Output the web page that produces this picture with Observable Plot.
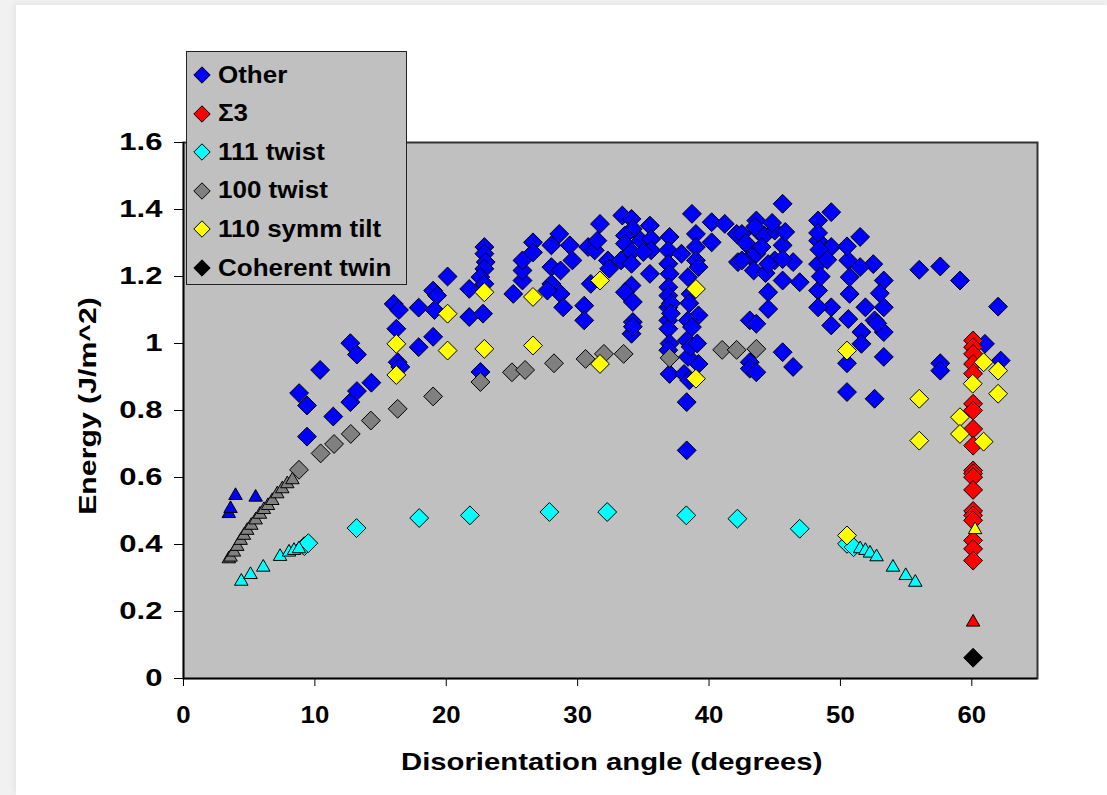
<!DOCTYPE html>
<html><head><meta charset="utf-8">
<script src="https://cdn.jsdelivr.net/npm/d3@7"></script>
<script src="https://cdn.jsdelivr.net/npm/@observablehq/plot@0.6"></script>
<style>
html,body{margin:0;padding:0;background:#f1f1f1;width:1107px;height:795px;overflow:hidden;font-family:"Liberation Sans",Arial,sans-serif;}
#card{position:absolute;left:16px;top:5px;width:1091px;height:790px;background:#fff;box-shadow:-2px -1px 6px rgba(0,0,0,0.06);}
#chart{position:absolute;left:0;top:0;}
#legend{position:absolute;left:186px;top:51px;width:221px;height:234px;background:#c0c0c0;border:1.5px solid #222;box-sizing:border-box;}
.li{position:absolute;left:0;height:30px;display:flex;align-items:center;font-weight:bold;font-size:23px;color:#000;white-space:nowrap;}
.li svg{margin-left:6px;margin-right:7px;}
.li span{display:inline-block;transform:scaleX(1.13);transform-origin:left center;}
.title{position:absolute;font-weight:bold;font-size:24px;color:#000;white-space:nowrap;}
</style></head>
<body>
<div id="card"></div>
<div id="chart"></div>
<div id="legend"></div>
<div class="title" id="xt">Disorientation angle (degrees)</div>
<div class="title" id="yt">Energy (J/m^2)</div>
<script>
// ---- data: [angle (deg), energy (J/m^2)] ----
const otherDiamonds = [
[8.8,0.852],[9.4,0.815],[9.4,0.722],[10.4,0.921],[11.4,0.782],[12.7,1.001],[13.2,0.967],[12.7,0.825],[13.2,0.858],[14.3,0.883],
[16.0,1.118],[16.4,1.10],[16.2,1.044],[16.3,0.944],[16.5,0.93],[17.9,1.107],[17.9,0.989],[19.0,1.158],[19.3,1.143],[19.1,1.10],
[19.0,1.02],[20.1,1.20],[21.75,1.163],[21.75,1.079],[22.6,0.915],[22.9,1.288],[22.9,1.268],[23.0,1.243],[22.9,1.223],[22.6,1.198],
[22.9,1.178],[22.8,1.089],
[25.1,1.148],[25.8,1.188],[25.8,1.218],[25.8,1.248],[26.6,1.302],[26.6,1.272],[28.0,1.293],[28.6,1.327],[29.4,1.293],[29.6,1.248],
[28.0,1.228],[28.7,1.218],[28.0,1.178],[28.7,1.148],[28.9,1.108],[30.5,1.113],[30.5,1.069],[27.7,1.158],[30.8,1.288],[31.3,1.278],
[31.7,1.357],[31.5,1.307],[32.3,1.248],[32.4,1.223],[31.0,1.178],[33.4,1.382],[34.1,1.372],[34.2,1.342],[33.6,1.322],[33.6,1.298],
[34.1,1.273],[33.3,1.248],[34.1,1.238],[34.8,1.307],[35.5,1.352],[35.6,1.312],[35.6,1.278],[35.0,1.273],[35.5,1.208],[34.1,1.173],
[33.6,1.153],[34.2,1.124],[34.2,1.064],[34.1,1.029],[34.2,1.05],
[37.0,1.318],[36.9,1.278],[36.9,1.238],[37.0,1.208],[36.9,1.168],[36.9,1.143],[36.9,1.108],[36.9,1.069],[36.9,1.044],[37.0,0.909],
[37.0,1.0],[36.9,0.98],[37.1,1.12],[37.1,1.09],
[37.9,1.268],[38.7,1.387],[39.0,1.327],[39.0,1.288],[39.0,1.248],[39.2,1.228],[38.4,1.198],[38.6,1.148],[39.2,1.084],[38.4,1.069],
[38.7,1.049],[38.3,1.009],[39.2,0.939],[38.1,0.909],[38.3,0.825],[38.3,0.681],[38.4,0.96],[38.5,1.12],[38.6,0.99],[39.1,1.0],[38.5,0.89],
[40.2,1.362],[41.2,1.357],[42.1,1.327],[40.2,1.302],[42.2,1.243],[43.2,1.258],[43.1,1.069],[43.1,0.944],[43.1,0.925],
[42.5,1.327],[43.6,1.367],[43.7,1.337],[44.2,1.322],[45.0,1.337],[43.1,1.288],[43.6,1.268],[43.4,1.218],[44.3,1.21],[45.6,1.417],
[49.3,1.392],[48.3,1.367],[51.5,1.318],[56.0,1.22],[57.6,1.23],[59.1,1.188],[62.0,1.11],[61.0,0.999],[62.2,0.949],[57.6,0.941],
[57.6,0.919],[50.5,0.855],[52.6,0.835],[53.3,0.96],[50.5,0.941],[46.4,0.93],[43.6,0.914],[45.6,0.974],[43.6,1.059],[44.5,1.153],
[44.5,1.103],[45.6,1.188],[46.9,1.183],[46.4,1.243],[48.3,1.158],[49.3,1.108],[49.3,1.054],[50.6,1.073],[50.7,1.148],[51.9,1.108],
[52.5,1.237],[53.3,1.188],[53.3,1.108],[53.3,1.034],[52.6,1.069],[51.6,1.034],[51.6,0.999],[49.3,1.288],[48.3,1.237],[48.3,1.307],
[48.3,1.108],[50.6,1.248],[51.5,1.228],[50.7,1.198],[45.0,1.248],[44.0,1.288],[43.5,1.348],[45.6,1.293],[45.8,1.333],[42.5,1.248],
[44.5,1.237],[45.6,1.252],[48.3,1.33],[48.4,1.28],[48.5,1.20],[49.0,1.25],[53.0,1.15],[52.8,1.06],[50.5,1.29],[44.8,1.36],[42.8,1.30]
];
const otherTriangles = [[3.45,0.492],[3.58,0.507],[3.96,0.546],[5.49,0.541]];
const sigma3Diamonds = [
[60.1,1.009],[60.1,0.989],[60.1,0.969],[60.1,0.939],[60.1,0.91],[60.1,0.82],[60.1,0.80],[60.1,0.745],[60.1,0.695],[60.1,0.621],
[60.1,0.612],[60.1,0.601],[60.1,0.563],[60.1,0.50],[60.1,0.487],[60.1,0.472],[60.1,0.412],[60.1,0.387],[60.1,0.352]
];
const sigma3Triangles = [[60.1,0.168]];
const twist111Diamonds = [
[9.2,0.395],[9.5,0.404],[13.17,0.449],[17.94,0.479],[21.8,0.487],[27.85,0.497],[32.25,0.497],[38.27,0.487],[42.16,0.477],[46.9,0.447],
[50.5,0.402],[51.0,0.392]
];
const twist111Triangles = [
[4.4,0.29],[5.1,0.31],[6.07,0.332],[7.35,0.364],[8.03,0.377],[8.41,0.382],[8.79,0.387],
[51.5,0.387],[51.9,0.382],[52.25,0.374],[52.75,0.363],[54.0,0.332],[54.97,0.307],[55.7,0.287]
];
const twist100Diamonds = [
[8.79,0.623],[10.44,0.672],[11.46,0.70],[12.73,0.730],[14.26,0.770],[16.3,0.805],[19.0,0.842],[22.6,0.885],[25.0,0.914],[26.0,0.921],
[28.2,0.941],[30.6,0.954],[32.0,0.969],[33.5,0.969],[37.0,0.957],[41.0,0.981],[42.1,0.981],[43.6,0.984]
];
const twist100Triangles = [
[3.45,0.357],[3.58,0.362],[3.84,0.377],[4.09,0.394],[4.35,0.412],[4.6,0.427],[4.85,0.442],[5.16,0.457],[5.49,0.473],[5.82,0.49],
[6.12,0.504],[6.43,0.516],[6.76,0.531],[7.14,0.551],[7.52,0.566],[7.9,0.581],[8.29,0.593]
];
const tilt110Diamonds = [
[16.2,0.999],[16.2,0.906],[20.1,1.089],[20.1,0.979],[22.9,1.153],[22.9,0.984],[26.6,1.139],[26.6,0.994],[31.7,1.188],[31.7,0.939],
[39.0,1.163],[39.0,0.895],[50.5,0.979],[50.5,0.427],[56.0,0.835],[56.0,0.71],[60.9,0.944],[62.0,0.919],[62.0,0.85],[60.07,0.88],
[59.1,0.78],[59.1,0.73],[60.9,0.707]
];
const tilt110Triangles = [[60.25,0.444]];
const coherentTwin = [[60.1,0.062]];

const legendLabels = ["Other","Σ3","111 twist","100 twist","110 symm tilt","Coherent twin"];
const seriesColors = ["#0000ff","#ff0000","#00ffff","#808080","#ffff00","#000000"];
const xTicks = [0,10,20,30,40,50,60];
const yTicks = [0,0.2,0.4,0.6,0.8,1,1.2,1.4,1.6];

// draw order: series order as in the legend (later on top)
const layers = [
  [otherDiamonds,0,"diamond2"],[sigma3Diamonds,1,"diamond2"],[twist111Diamonds,2,"diamond2"],
  [twist100Diamonds,3,"diamond2"],[tilt110Diamonds,4,"diamond2"],[coherentTwin,5,"diamond2"],
  [otherTriangles,0,"triangle"],[sigma3Triangles,1,"triangle"],[twist111Triangles,2,"triangle"],
  [twist100Triangles,3,"triangle"],[tilt110Triangles,4,"triangle"]
];

const font = '"Liberation Sans", Arial, sans-serif';
const dotMarks = layers.map(([data, ci, sym]) => Plot.dot(data, {
  x: d => d[0], y: d => d[1], symbol: sym, r: sym === "triangle" ? 5 : 8.5,
  fill: seriesColors[ci], stroke: "#000", strokeWidth: 1
}));

const chart = Plot.plot({
  width: 1107, height: 795,
  marginLeft: 183, marginRight: 70, marginTop: 142, marginBottom: 117,
  x: {domain: [0, 65]},
  y: {domain: [0, 1.6]},
  style: {fontFamily: font, fontSize: "23px", fontWeight: "bold", color: "#000", background: "transparent", overflow: "visible"},
  marks: [
    Plot.frame({fill: "#c0c0c0", stroke: "#333", strokeWidth: 2}),
    Plot.axisX({ticks: xTicks, tickSize: 8, tickPadding: 20, label: null, tickFormat: d => String(d), stroke: "#000"}),
    Plot.axisY({ticks: yTicks, tickSize: 9, tickPadding: 12, label: null, tickFormat: d => String(d), stroke: "#000"}),
    Plot.ruleX([0], {stroke: "#000", strokeWidth: 1.5}),
    Plot.ruleY([0], {stroke: "#000", strokeWidth: 1.5}),
    ...dotMarks
  ]
});
document.getElementById("chart").appendChild(chart);

// widen tick label glyphs to match the reference's broad lettering
function widen(sel, k) {
  chart.querySelectorAll(sel).forEach(t => {
    const w = t.getComputedTextLength();
    if (w > 0) { t.setAttribute("textLength", w * k); t.setAttribute("lengthAdjust", "spacingAndGlyphs"); }
  });
}
widen('g[aria-label="y-axis tick label"] text', 1.35);
widen('g[aria-label="x-axis tick label"] text', 1.12);

// legend
const lg = document.getElementById("legend");
legendLabels.forEach((lab, i) => {
  const div = document.createElement("div");
  div.className = "li";
  div.style.top = (8 + i * 38.6) + "px";
  div.innerHTML = `<svg width="18" height="18" viewBox="0 0 18 18"><polygon points="9,0.8 17.2,9 9,17.2 0.8,9" fill="${seriesColors[i]}" stroke="#000" stroke-width="1"/></svg><span>${lab}</span>`;
  lg.appendChild(div);
});

// axis titles
const xt = document.getElementById("xt");
xt.style.left = (611 - xt.offsetWidth / 2) + "px";
xt.style.top = (762 - xt.offsetHeight / 2) + "px";
xt.style.transform = "scaleX(1.22)";
const yt = document.getElementById("yt");
yt.style.left = (88 - yt.offsetWidth / 2) + "px";
yt.style.top = (406 - yt.offsetHeight / 2) + "px";
yt.style.transform = "rotate(-90deg) scaleX(1.26)";
</script>
</body></html>
